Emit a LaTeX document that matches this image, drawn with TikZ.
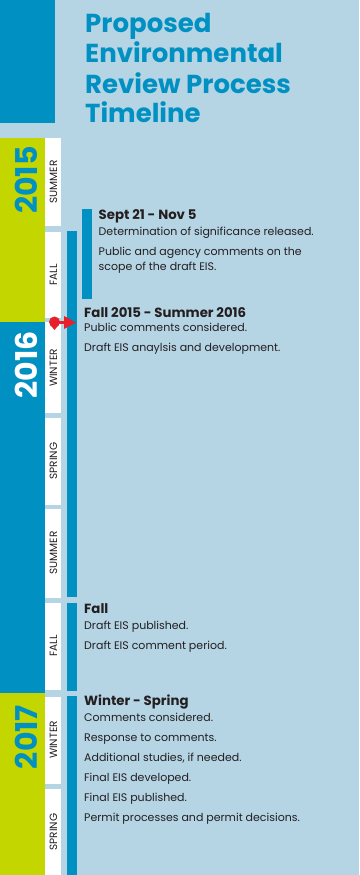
\documentclass[tikz,border=0pt]{standalone}
\usepackage{fontspec}
\setmainfont{Poppins}
\usetikzlibrary{positioning}

\definecolor{paleblue}{HTML}{B5D4E4}
\definecolor{deepblue}{HTML}{0090C2}
\definecolor{lime}{HTML}{C4D600}
\definecolor{ink}{HTML}{231F20}
\definecolor{pinred}{HTML}{E8202A}

\tikzstyle{titletext} = [anchor=base west, inner sep=0, text=deepblue, font=\fontsize{26}{26}\selectfont\bfseries]
\tikzstyle{yearlabel} = [rotate=90, inner sep=0, font=\fontsize{30}{30}\selectfont\bfseries]
\tikzstyle{seasonlabel} = [rotate=90, inner sep=0, text=ink, font=\fontsize{10.5}{10.5}\selectfont]
\tikzstyle{heading} = [anchor=base west, inner sep=0, text=ink, font=\fontsize{13.3}{13.3}\selectfont\bfseries]
\tikzstyle{item} = [anchor=base west, inner sep=0, text=ink, font=\fontsize{11}{11}\selectfont]
\tikzstyle{bar} = [fill=deepblue]
\tikzstyle{seasonbox} = [fill=white]

\begin{document}
\begin{tikzpicture}[x=1pt,y=-1pt]

%Background
\useasboundingbox (0,0) rectangle (359,875);
\fill[paleblue] (0,0) rectangle (359,875);
\fill[deepblue] (0,0) rectangle (55,123);

%Title
\node (title1) [titletext] at (85,32.5) {Proposed};
\node (title2) [below=30.5pt of title1.base west, titletext] {Environmental};
\node (title3) [below=30pt of title2.base west, titletext] {Review Process};
\node (title4) [below=29pt of title3.base west, titletext] {Timeline};

%Years
\fill[lime] (0,138) rectangle (45,322);
\fill[deepblue] (0,322) rectangle (45,693);
\fill[lime] (0,693) rectangle (45,875);
\node (y2015) [yearlabel, text=deepblue] at (26,180) {2015};
\node (y2016) [yearlabel, text=white] at (26,365) {2016};
\node (y2017) [yearlabel, text=deepblue] at (26,737) {2017};

%Seasons
\fill[seasonbox] (45,138) rectangle (61,226);
\fill[seasonbox] (45,232) rectangle (61,318);
\fill[seasonbox] (45,322) rectangle (61,413);
\fill[seasonbox] (45,418) rectangle (61,505);
\fill[seasonbox] (45,509) rectangle (61,598);
\fill[seasonbox] (45,603) rectangle (61,690);
\fill[seasonbox] (45,697) rectangle (61,784);
\fill[seasonbox] (45,789) rectangle (61,875);
\node (sum15) [seasonlabel] at (53.5,182) {SUMMER};
\node (fall15) [seasonlabel] at (53.5,275) {FALL};
\node (win16) [seasonlabel] at (53.5,368) {WINTER};
\node (spr16) [seasonlabel] at (53.5,461) {SPRING};
\node (sum16) [seasonlabel] at (53.5,553) {SUMMER};
\node (fall16) [seasonlabel] at (53.5,646) {FALL};
\node (win17) [seasonlabel] at (53.5,740) {WINTER};
\node (spr17) [seasonlabel] at (53.5,832) {SPRING};

%Bars
\fill[bar] (82,209) rectangle (92,299);
\fill[bar] (67,231) rectangle (77,597);
\fill[bar] (67,603) rectangle (77,691);
\fill[bar] (67,696) rectangle (77,875);

%Marker
\fill[pinred] (54.5,322) circle (5.5pt);
\fill[pinred] (50.5,325) -- (58.5,325) -- (54.5,330) -- cycle;
\fill[pinred] (58,320.8) rectangle (65,324.2);
\fill[pinred] (64,316) -- (76,322.5) -- (64,329) -- cycle;

%Sept - Nov
\node (sept) [heading] at (98.5,219) {Sept 21 - Nov 5};
\node (sept1) [below=16pt of sept.base west, item] {Determination of significance released.};
\node (sept2) [below=20pt of sept1.base west, item] {Public and agency comments on the};
\node (sept3) [below=15pt of sept2.base west, item] {scope of the draft EIS.};

%Fall 2015 - Summer 2016
\node (draft) [heading] at (84,317) {Fall 2015 - Summer 2016};
\node (draft1) [below=14pt of draft.base west, item] {Public comments considered.};
\node (draft2) [below=20pt of draft1.base west, item] {Draft EIS anaylsis and development.};

%Fall 2016
\node (pub) [heading] at (84,613) {Fall};
\node (pub1) [below=16pt of pub.base west, item] {Draft EIS published.};
\node (pub2) [below=20pt of pub1.base west, item] {Draft EIS comment period.};

%Winter - Spring 2017
\node (final) [heading] at (84,705) {Winter - Spring};
\node (final1) [below=16pt of final.base west, item] {Comments considered.};
\node (final2) [below=20pt of final1.base west, item] {Response to comments.};
\node (final3) [below=20pt of final2.base west, item] {Additional studies, if needed.};
\node (final4) [below=20.5pt of final3.base west, item] {Final EIS developed.};
\node (final5) [below=20pt of final4.base west, item] {Final EIS published.};
\node (final6) [below=20pt of final5.base west, item] {Permit processes and permit decisions.};

\end{tikzpicture}
\end{document}
